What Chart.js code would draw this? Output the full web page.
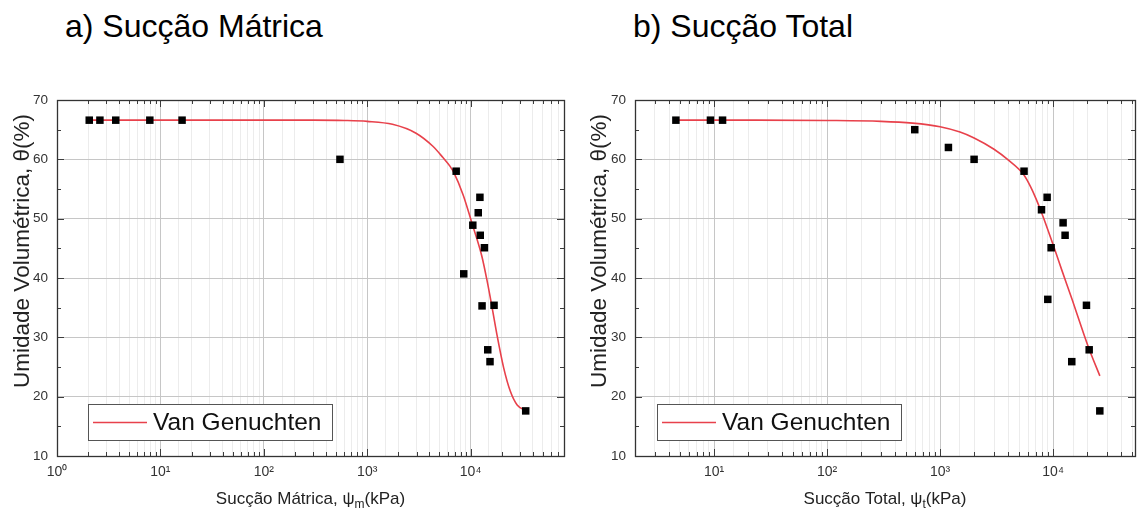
<!DOCTYPE html>
<html><head><meta charset="utf-8">
<script src="https://cdn.jsdelivr.net/npm/chart.js@4.4.1/dist/chart.umd.min.js"></script>
<style>
html,body{margin:0;padding:0;background:#fff;width:1143px;height:514px;overflow:hidden;}
.wrap{position:absolute;top:0;height:514px;}
.ttl{position:absolute;top:10px;font-family:'Liberation Sans',Arial,sans-serif;font-size:32px;line-height:32px;color:#000;white-space:nowrap;}
</style></head><body>
<div class="ttl" style="left:65px">a) Sucção Mátrica</div>
<div class="ttl" style="left:633px">b) Sucção Total</div>
<div class="wrap" style="left:0;width:575px"><canvas id="c1"></canvas></div>
<div class="wrap" style="left:572px;width:571px"><canvas id="c2"></canvas></div>
<script>
// ---- data ----
const matricSuction = [2.05, 2.6, 3.7, 7.9, 16.2, 545, 7250, 12300, 11850, 10500, 12400, 13600, 8580, 12900, 16850, 14650, 15400, 34100];
const matricTheta   = [66.6, 66.6, 66.6, 66.6, 66.6, 60.0, 58.0, 53.6, 51.0, 48.9, 47.2, 45.1, 40.7, 35.3, 35.4, 27.9, 25.9, 17.6];
const matricCurveX  = [2, 10, 100, 300, 600, 1000, 1755, 2967, 4315, 5400, 6280, 6870, 8470, 10240, 12790, 14330, 16030, 17950, 20850, 24220, 28180, 33980];
const matricCurveY  = [66.6, 66.6, 66.6, 66.6, 66.55, 66.4, 65.9, 64.4, 62.2, 60.3, 58.9, 57.8, 54.0, 49.4, 43.8, 39.8, 35.3, 30.5, 24.9, 20.9, 18.6, 17.7];

const totalSuction = [4.6, 9.3, 11.9, 597, 1185, 1999, 5530, 8850, 7890, 12250, 12760, 9600, 8970, 19720, 20840, 14620, 25880];
const totalTheta   = [66.6, 66.6, 66.6, 65.0, 62.0, 60.0, 58.0, 53.6, 51.5, 49.3, 47.2, 45.1, 36.4, 35.4, 27.9, 25.9, 17.6];
const totalCurveX  = [4.6, 20, 100, 300, 570, 1000, 1500, 2000, 3000, 4000, 5500, 6310, 7080, 7940, 8910, 10000, 12000, 14830, 18190, 20850, 25900];
const totalCurveY  = [66.6, 66.6, 66.55, 66.4, 66.1, 65.5, 64.6, 63.6, 61.7, 59.9, 57.4, 55.4, 53.3, 50.9, 48.3, 45.6, 41.2, 36.2, 31.2, 28.0, 23.5];

const yTicks = [10, 20, 30, 40, 50, 60, 70];
const decadeLabels = ['10⁰', '10¹', '10²', '10³', '10⁴', '10⁵'];
const seriesName = 'Van Genuchten';
const titles = { yAxis: 'Umidade Volumétrica, θ(%)',
  xMatric: ['Sucção Mátrica, ψ', 'm', '(kPa)'],
  xTotal: ['Sucção Total, ψ', 't', '(kPa)'] };

// ---- helpers ----
const FONT = "'Liberation Sans', Arial, Helvetica, sans-serif";
function isDecade(v){ const l = Math.log10(v); return Math.abs(l - Math.round(l)) < 1e-6; }
function zip(xs, ys){ return xs.map((x, i) => ({x: x, y: ys[i]})); }

const framePlugin = {
  id: 'frameTicks',
  beforeDatasetsDraw(chart){
    const {ctx, chartArea: a, scales: {x, y}} = chart;
    ctx.save();
    ctx.strokeStyle = '#3c3c3c'; ctx.lineWidth = 1;
    ctx.beginPath();
    const e0 = Math.floor(Math.log10(x.min)), e1 = Math.ceil(Math.log10(x.max));
    for (let e = e0; e <= e1; e++) for (let m = 1; m <= 9; m++) {
      const v = m * Math.pow(10, e);
      if (v < x.min * 0.999 || v > x.max * 1.001) continue;
      const px = Math.round(x.getPixelForValue(v)) + 0.5;
      const len = m === 1 ? 7 : 4;
      ctx.moveTo(px, a.bottom); ctx.lineTo(px, a.bottom - len);
      ctx.moveTo(px, a.top); ctx.lineTo(px, a.top + len);
    }
    for (let v = y.min; v <= y.max; v += 5) {
      const py = Math.round(y.getPixelForValue(v)) + 0.5;
      const len = v % 10 === 0 ? 7 : 4;
      ctx.moveTo(a.left, py); ctx.lineTo(a.left + len, py);
      ctx.moveTo(a.right, py); ctx.lineTo(a.right - len, py);
    }
    ctx.stroke();
    ctx.lineWidth = 1.3; ctx.strokeStyle = '#333';
    ctx.strokeRect(Math.round(a.left) + 0.5, Math.round(a.top) + 0.5, Math.round(a.right - a.left), Math.round(a.bottom - a.top));
    ctx.restore();
  },
  afterDraw(chart, args, opts){
    const {ctx, chartArea: a} = chart;
    ctx.save();
    // y axis title (rotated)
    ctx.save();
    ctx.translate(opts.yTitleX, opts.yTitleY);
    ctx.rotate(-Math.PI / 2);
    ctx.fillStyle = '#222'; ctx.font = '22.5px ' + FONT;
    ctx.textAlign = 'center'; ctx.textBaseline = 'middle';
    ctx.fillText(titles.yAxis, 0, 0);
    ctx.restore();
    // x axis title with subscript
    const parts = opts.xTitle;
    const f1 = '17px ' + FONT, f2 = '12px ' + FONT;
    ctx.font = f1; const w1 = ctx.measureText(parts[0]).width, w3 = ctx.measureText(parts[2]).width;
    ctx.font = f2; const w2 = ctx.measureText(parts[1]).width;
    let sx = (a.left + a.right) / 2 - (w1 + w2 + w3) / 2;
    const by = 504;
    ctx.fillStyle = '#222'; ctx.textBaseline = 'alphabetic'; ctx.textAlign = 'left';
    ctx.font = f1; ctx.fillText(parts[0], sx, by);
    ctx.font = f2; ctx.fillText(parts[1], sx + w1, by + 4);
    ctx.font = f1; ctx.fillText(parts[2], sx + w1 + w2, by);
    // legend box
    const ds = chart.data.datasets[0];
    const bx = a.left + opts.legendDx, bw = 244, bh = 36, byb = a.bottom - 16 - bh;
    ctx.fillStyle = '#fff'; ctx.fillRect(bx, byb, bw, bh);
    ctx.strokeStyle = '#555'; ctx.lineWidth = 1;
    ctx.strokeRect(bx + 0.5, byb + 0.5, bw, bh);
    const ly = byb + bh / 2 + 0.5;
    ctx.strokeStyle = ds.borderColor; ctx.lineWidth = 1.6;
    ctx.beginPath(); ctx.moveTo(bx + 5, ly); ctx.lineTo(bx + 59, ly); ctx.stroke();
    ctx.fillStyle = '#111'; ctx.font = '24.5px ' + FONT; ctx.textBaseline = 'middle';
    ctx.fillText(ds.label, bx + 65, ly + 1);
    ctx.restore();
  }
};

function makeChart(id, pts, curve, xmin, xmax, yTitleX, yWidth, rightPad, xTitle, legendDx){
  return new Chart(document.getElementById(id), {
    type: 'scatter',
    data: { datasets: [
      { label: seriesName, data: curve, showLine: true, pointRadius: 0, borderColor: '#e8414b',
        borderWidth: 1.6, cubicInterpolationMode: 'monotone', order: 2 },
      { label: 'dados', data: pts, pointStyle: 'rect', pointRadius: 5.3, backgroundColor: '#000',
        borderColor: '#000', borderWidth: 0, order: 1 }
    ]},
    options: {
      responsive: true, maintainAspectRatio: false, animation: false,
      layout: { padding: { left: 0, right: rightPad, top: 100, bottom: 0 } },
      plugins: { legend: { display: false }, tooltip: { enabled: false },
        frameTicks: { xTitle: xTitle, legendDx: legendDx, yTitleX: yTitleX, yTitleY: 251 } },
      scales: {
        x: { type: 'logarithmic', min: xmin, max: xmax,
          afterFit: s => { s.height = 58; },
          border: { display: false },
          grid: { drawTicks: false, lineWidth: 1,
            color: c => (c.tick && isDecade(c.tick.value)) ? '#c6c6c6' : '#ececec' },
          ticks: { autoSkip: false, maxRotation: 0, padding: 8, color: '#333',
            font: { family: FONT, size: 14 },
            callback: v => isDecade(v) ? decadeLabels[Math.round(Math.log10(v))] : '' } },
        y: { min: yTicks[0], max: yTicks[yTicks.length - 1],
          afterFit: s => { s.width = yWidth; },
          border: { display: false },
          grid: { drawTicks: false, color: '#c6c6c6', lineWidth: 1 },
          ticks: { stepSize: 10, padding: 9, color: '#333', font: { family: FONT, size: 13.5 } },
          title: { display: false } }
      }
    },
    plugins: [framePlugin]
  });
}

makeChart('c1', zip(matricSuction, matricTheta), zip(matricCurveX, matricCurveY), 1, 80000, 23, 57, 11, titles.xMatric, 31);
makeChart('c2', zip(totalSuction, totalTheta), zip(totalCurveX, totalCurveY), 2, 53000, 28, 63, 6, titles.xTotal, 22);
</script>
</body></html>
